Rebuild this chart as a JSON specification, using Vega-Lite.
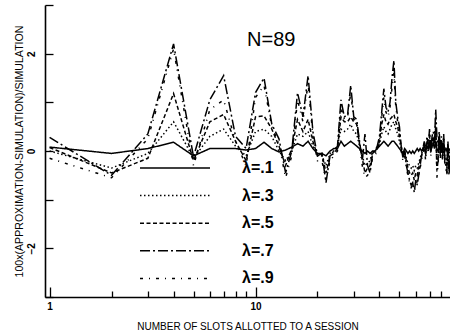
{
  "$schema": "https://vega.github.io/schema/vega-lite/v6.json",
  "width": 405,
  "height": 292,
  "autosize": {"type": "none"},
  "padding": {"left": 45, "top": 5, "right": 0, "bottom": 33},
  "background": "white",
  "config": {"view": {"stroke": null}, "font": "Liberation Sans"},
  "layer": [
    {
      "data": {"values": [
        {"x":1,"a1":0.08,"a3":0.0,"a5":0.07,"a7":0.28,"a9":-0.15},
        {"x":2,"a1":-0.05,"a3":-0.35,"a5":-0.45,"a7":-0.5,"a9":-0.55},
        {"x":3,"a1":0.05,"a3":-0.05,"a5":-0.15,"a7":0.35,"a9":0.25},
        {"x":4,"a1":0.18,"a3":0.6,"a5":1.18,"a7":2.2,"a9":2.1},
        {"x":5,"a1":-0.1,"a3":-0.15,"a5":-0.2,"a7":-0.12,"a9":-0.3},
        {"x":6,"a1":0.05,"a3":0.3,"a5":0.6,"a7":1.05,"a9":0.85},
        {"x":7,"a1":0.05,"a3":0.45,"a5":0.75,"a7":1.55,"a9":1.05},
        {"x":8,"a1":0.05,"a3":0.1,"a5":0.2,"a7":0.3,"a9":0.2},
        {"x":9,"a1":0.02,"a3":-0.1,"a5":-0.2,"a7":0.05,"a9":-0.3},
        {"x":10,"a1":0.05,"a3":0.4,"a5":0.7,"a7":1.2,"a9":1.1},
        {"x":11,"a1":0.18,"a3":0.45,"a5":0.72,"a7":1.5,"a9":1.35},
        {"x":12,"a1":0.05,"a3":0.3,"a5":0.45,"a7":0.55,"a9":0.5},
        {"x":13,"a1":-0.02,"a3":0.0,"a5":0.1,"a7":0.25,"a9":0.15},
        {"x":14,"a1":0.02,"a3":-0.2,"a5":-0.3,"a7":-0.45,"a9":-0.55},
        {"x":15,"a1":0.08,"a3":0.0,"a5":0.05,"a7":0.0,"a9":-0.1},
        {"x":16,"a1":0.15,"a3":0.35,"a5":0.65,"a7":1.2,"a9":1.05},
        {"x":17,"a1":0.1,"a3":0.3,"a5":0.4,"a7":0.7,"a9":0.6},
        {"x":18,"a1":0.2,"a3":0.4,"a5":0.65,"a7":1.55,"a9":1.4},
        {"x":19,"a1":0.05,"a3":0.1,"a5":0.2,"a7":0.4,"a9":0.3},
        {"x":20,"a1":-0.05,"a3":-0.05,"a5":-0.1,"a7":-0.1,"a9":-0.2},
        {"x":21,"a1":-0.05,"a3":-0.1,"a5":-0.05,"a7":-0.05,"a9":-0.2},
        {"x":22,"a1":-0.1,"a3":-0.3,"a5":-0.45,"a7":-0.65,"a9":-0.6},
        {"x":23,"a1":0.0,"a3":-0.05,"a5":-0.1,"a7":-0.1,"a9":-0.2},
        {"x":24,"a1":0.05,"a3":0.0,"a5":-0.05,"a7":0.0,"a9":-0.1},
        {"x":25,"a1":0.05,"a3":0.1,"a5":0.05,"a7":0.1,"a9":0.0},
        {"x":26,"a1":0.2,"a3":0.45,"a5":0.7,"a7":1.05,"a9":0.9},
        {"x":27,"a1":0.1,"a3":0.4,"a5":0.6,"a7":0.7,"a9":0.65},
        {"x":28,"a1":0.15,"a3":0.45,"a5":0.6,"a7":0.75,"a9":0.7},
        {"x":29,"a1":0.2,"a3":0.55,"a5":0.7,"a7":1.35,"a9":1.2},
        {"x":30,"a1":0.15,"a3":0.4,"a5":0.6,"a7":0.7,"a9":0.65},
        {"x":31,"a1":0.1,"a3":0.35,"a5":0.55,"a7":0.65,"a9":0.6},
        {"x":32,"a1":0.05,"a3":0.1,"a5":0.15,"a7":0.2,"a9":0.1},
        {"x":33,"a1":0.0,"a3":-0.1,"a5":-0.15,"a7":-0.2,"a9":-0.3},
        {"x":34,"a1":-0.05,"a3":-0.3,"a5":-0.45,"a7":0.35,"a9":-0.55},
        {"x":35,"a1":0.0,"a3":-0.25,"a5":-0.35,"a7":-0.3,"a9":-0.5},
        {"x":36,"a1":-0.05,"a3":-0.2,"a5":-0.3,"a7":-0.45,"a9":-0.4},
        {"x":37,"a1":0.0,"a3":0.0,"a5":-0.05,"a7":-0.05,"a9":-0.15},
        {"x":38,"a1":0.0,"a3":-0.05,"a5":0.0,"a7":0.0,"a9":-0.1},
        {"x":39,"a1":0.05,"a3":0.05,"a5":0.05,"a7":0.1,"a9":0.0},
        {"x":40,"a1":0.1,"a3":0.15,"a5":0.2,"a7":0.3,"a9":0.2},
        {"x":41,"a1":0.15,"a3":0.35,"a5":0.55,"a7":0.8,"a9":0.7},
        {"x":42,"a1":0.2,"a3":0.5,"a5":0.75,"a7":1.28,"a9":1.1},
        {"x":43,"a1":0.15,"a3":0.4,"a5":0.6,"a7":0.9,"a9":0.8},
        {"x":44,"a1":0.1,"a3":0.35,"a5":0.55,"a7":0.8,"a9":0.7},
        {"x":45,"a1":0.15,"a3":0.45,"a5":0.65,"a7":1.0,"a9":0.9},
        {"x":46,"a1":0.2,"a3":0.55,"a5":0.7,"a7":1.5,"a9":1.3},
        {"x":47,"a1":0.2,"a3":0.6,"a5":0.75,"a7":1.86,"a9":1.6},
        {"x":48,"a1":0.15,"a3":0.45,"a5":0.6,"a7":1.0,"a9":0.9},
        {"x":49,"a1":0.1,"a3":0.35,"a5":0.5,"a7":0.7,"a9":0.6},
        {"x":50,"a1":0.05,"a3":0.2,"a5":0.3,"a7":0.5,"a9":0.4},
        {"x":51,"a1":0.0,"a3":0.05,"a5":0.1,"a7":0.1,"a9":0.0},
        {"x":52,"a1":-0.05,"a3":-0.1,"a5":-0.15,"a7":-0.1,"a9":-0.2},
        {"x":53,"a1":0.05,"a3":0.0,"a5":0.0,"a7":0.0,"a9":-0.1},
        {"x":54,"a1":0.0,"a3":-0.15,"a5":-0.2,"a7":-0.3,"a9":-0.35},
        {"x":55,"a1":-0.05,"a3":-0.25,"a5":-0.35,"a7":-0.45,"a9":-0.5},
        {"x":56,"a1":0.0,"a3":-0.3,"a5":-0.45,"a7":-0.6,"a9":-0.65},
        {"x":57,"a1":-0.05,"a3":-0.35,"a5":-0.5,"a7":-0.7,"a9":-0.75},
        {"x":58,"a1":0.0,"a3":-0.3,"a5":-0.45,"a7":-0.65,"a9":-0.7},
        {"x":59,"a1":-0.05,"a3":-0.4,"a5":-0.6,"a7":-0.85,"a9":-0.8},
        {"x":60,"a1":0.0,"a3":-0.3,"a5":-0.45,"a7":-0.6,"a9":-0.75},
        {"x":61,"a1":0.05,"a3":-0.35,"a5":-0.5,"a7":-0.7,"a9":-0.6},
        {"x":62,"a1":0.0,"a3":-0.25,"a5":-0.35,"a7":-0.5,"a9":-0.55},
        {"x":63,"a1":0.05,"a3":-0.15,"a5":-0.2,"a7":-0.3,"a9":-0.35},
        {"x":64,"a1":0.0,"a3":-0.05,"a5":-0.1,"a7":-0.1,"a9":-0.2},
        {"x":65,"a1":0.05,"a3":0.0,"a5":0.05,"a7":0.05,"a9":-0.05},
        {"x":66,"a1":0.1,"a3":0.1,"a5":0.15,"a7":0.2,"a9":0.1},
        {"x":67,"a1":0.0,"a3":-0.05,"a5":-0.1,"a7":-0.05,"a9":-0.2},
        {"x":68,"a1":0.1,"a3":0.15,"a5":0.2,"a7":0.3,"a9":0.2},
        {"x":69,"a1":0.05,"a3":0.0,"a5":0.05,"a7":0.1,"a9":0.0},
        {"x":70,"a1":0.15,"a3":0.2,"a5":0.3,"a7":0.45,"a9":0.35},
        {"x":71,"a1":0.0,"a3":-0.05,"a5":0.0,"a7":0.0,"a9":-0.1},
        {"x":72,"a1":0.1,"a3":0.15,"a5":0.2,"a7":0.3,"a9":0.2},
        {"x":73,"a1":0.15,"a3":0.2,"a5":0.3,"a7":0.4,"a9":0.3},
        {"x":74,"a1":0.05,"a3":0.1,"a5":0.15,"a7":0.2,"a9":0.1},
        {"x":75,"a1":0.2,"a3":0.35,"a5":0.5,"a7":0.85,"a9":0.7},
        {"x":76,"a1":0.05,"a3":-0.2,"a5":-0.4,"a7":0.3,"a9":-0.55},
        {"x":77,"a1":0.0,"a3":-0.1,"a5":-0.2,"a7":0.1,"a9":-0.3},
        {"x":78,"a1":0.1,"a3":0.2,"a5":0.3,"a7":0.4,"a9":0.3},
        {"x":79,"a1":0.0,"a3":-0.05,"a5":-0.1,"a7":0.0,"a9":-0.15},
        {"x":80,"a1":0.1,"a3":0.15,"a5":0.2,"a7":0.3,"a9":0.2},
        {"x":81,"a1":0.0,"a3":-0.1,"a5":-0.15,"a7":-0.1,"a9":-0.2},
        {"x":82,"a1":0.1,"a3":0.15,"a5":0.25,"a7":0.35,"a9":0.25},
        {"x":83,"a1":0.0,"a3":-0.1,"a5":-0.15,"a7":-0.2,"a9":-0.25},
        {"x":84,"a1":0.05,"a3":-0.15,"a5":-0.2,"a7":-0.3,"a9":-0.35},
        {"x":85,"a1":0.0,"a3":-0.25,"a5":-0.35,"a7":-0.45,"a9":-0.5},
        {"x":86,"a1":0.1,"a3":0.1,"a5":0.15,"a7":0.2,"a9":0.1},
        {"x":87,"a1":0.0,"a3":-0.2,"a5":-0.3,"a7":-0.5,"a9":-0.45},
        {"x":88,"a1":0.05,"a3":0.0,"a5":-0.1,"a7":-0.2,"a9":-0.15}
      ]},
      "transform": [{"fold": ["a1", "a3", "a5", "a7", "a9"], "as": ["lam", "v"]}],
      "mark": {"type": "line", "color": "black", "strokeWidth": 1.5, "clip": true},
      "encoding": {
        "x": {
          "field": "x", "type": "quantitative",
          "scale": {"type": "log", "domain": [0.95, 88], "nice": false},
          "axis": {
            "values": [1,2,3,4,5,6,7,8,9,10,20,30,40,50,60,70,80],
            "labelExpr": "datum.value == 1 || datum.value == 10 ? datum.label : ''",
            "tickSize": {"condition": {"test": "datum.value == 1 || datum.value == 10", "value": -10}, "value": -6},
            "labelPadding": 14,
            "labelFlush": false,
            "labelOverlap": false,
            "domainColor": "black", "domainWidth": 1.6,
            "tickColor": "black", "tickWidth": 1.3,
            "labelFontSize": 10, "labelFontWeight": "bold", "labelColor": "black",
            "grid": false,
            "title": "NUMBER OF SLOTS ALLOTTED TO A SESSION",
            "titleFontSize": 10, "titleFontWeight": "normal", "titleColor": "black",
            "titlePadding": 6
          }
        },
        "y": {
          "field": "v", "type": "quantitative",
          "scale": {"domain": [-3, 3], "nice": false},
          "axis": {
            "values": [-3,-2,-1,0,1,2,3],
            "labelExpr": "datum.value == 2 || datum.value == 0 || datum.value == -2 ? datum.label : ''",
            "tickSize": -8,
            "labelPadding": 17,
            "labelAngle": 270,
            "labelOverlap": false,
            "domainColor": "black", "domainWidth": 1.6,
            "tickColor": "black", "tickWidth": 1.3,
            "labelFontSize": 10, "labelFontWeight": "bold", "labelColor": "black",
            "grid": false,
            "title": "100x(APPROXIMATION-SIMULATION)/SIMULATION",
            "titleFontSize": 10.6, "titleFontWeight": "normal", "titleColor": "black",
            "titlePadding": 2
          }
        },
        "strokeDash": {
          "field": "lam", "type": "nominal",
          "scale": {"domain": ["a1","a3","a5","a7","a9"], "range": [[1,0],[1.5,2.5],[4,2.5],[10,3,2,3],[3,6,1,6]]},
          "legend": {
            "orient": "none", "legendX": 122, "legendY": 155,
            "title": null, "padding": 0,
            "symbolType": "M-7,0H7", "symbolSize": 100,
            "symbolStrokeWidth": 1.5, "symbolStrokeColor": "black",
            "labelFont": "Liberation Sans", "labelFontSize": 16, "labelFontWeight": "bold", "labelColor": "black",
            "labelOffset": 59, "rowPadding": 11.6,
            "labelExpr": "'λ=.' + substring(datum.label, 1)"
          }
        }
      }
    },
    {
      "data": {"values": [{"x": 9.1, "y": 2.29, "t": "N=89"}]},
      "mark": {"type": "text", "align": "left", "baseline": "middle", "fontSize": 20, "font": "Liberation Sans", "color": "black"},
      "encoding": {
        "x": {"field": "x", "type": "quantitative"},
        "y": {"field": "y", "type": "quantitative"},
        "text": {"field": "t"}
      }
    }
  ]
}
